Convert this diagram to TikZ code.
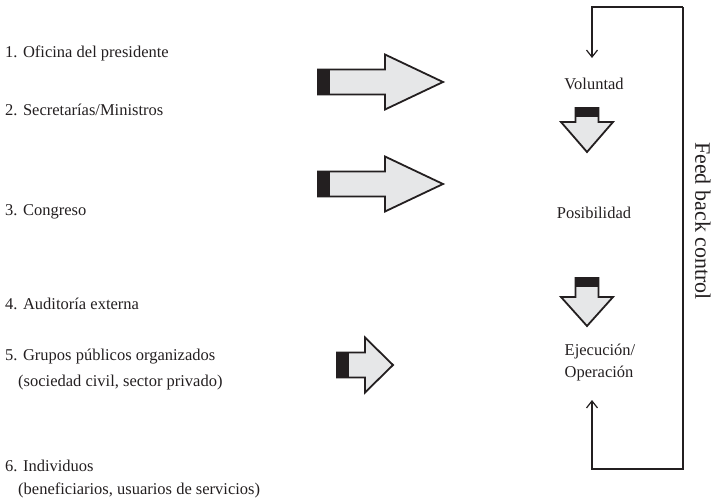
\documentclass[tikz,border=0pt]{standalone}
\usepackage{fontspec}
\setmainfont{Liberation Serif}
\usetikzlibrary{arrows.meta}
\definecolor{ink}{HTML}{231F20}
\definecolor{arrowfill}{HTML}{E6E7E8}
\tikzset{
  lbl/.style={anchor=west, inner sep=0pt, font=\fontsize{16.5}{19}\selectfont, text=ink},
  stage/.style={inner sep=0pt, font=\fontsize{16.5}{22}\selectfont, text=ink},
  blockarrow/.style={draw=ink, fill=arrowfill, line width=1.8pt, line join=miter},
  tailcap/.style={fill=ink, draw=ink, line width=0.6pt},
  loop/.style={draw=ink, line width=1.6pt},
  looptip/.style={-{Straight Barb[length=7pt,width=11pt,line width=1.2pt]}}
}
% horizontal block arrow: tail x, head start x, tip x, centre y
\newcommand{\rightblock}[4]{%
  \path[blockarrow] (#1,#4-12.5) -- (#2,#4-12.5) -- (#2,#4-27.5) -- (#3,#4)
    -- (#2,#4+27.5) -- (#2,#4+12.5) -- (#1,#4+12.5) -- cycle;
  \path[tailcap] (#1,#4-12.5) rectangle (#1+11,#4+12.5);
}
% vertical block arrow: centre x, tail y, head start y, tip y
\newcommand{\downblock}[4]{%
  \path[blockarrow] (#1-11.5,#2) -- (#1+11.5,#2) -- (#1+11.5,#3) -- (#1+26,#3)
    -- (#1,#4) -- (#1-26,#3) -- (#1-11.5,#3) -- cycle;
  \path[tailcap] (#1-11.5,#2) rectangle (#1+11.5,#2+8);
}
\begin{document}
\begin{tikzpicture}[x=1pt,y=-1pt]
\useasboundingbox (0,0) rectangle (714,501);

% actors
\node[lbl] (l1) at (5,53) {1. Oficina del presidente};
\node[lbl] (l2) at (5,110) {2. Secretarías/Ministros};
\node[lbl] (l3) at (5,212) {3. Congreso};
\node[lbl] (l4) at (5,304) {4. Auditoría externa};
\node[lbl] (l5) at (5,357) {5. Grupos públicos organizados};
\node[lbl] (l5b) at (18,383) {(sociedad civil, sector privado)};
\node[lbl] (l6) at (5,466) {6. Individuos};
\node[lbl] (l6b) at (18,490) {(beneficiarios, usuarios de servicios)};

% stages
\node[stage] (vol) at (594,84) {Voluntad};
\node[stage] (pos) at (594,213) {Posibilidad};
\node[stage, align=left] (eje) at (600,363) {Ejecución/\\Operación};

% inputs into each stage
\rightblock{318}{385}{443}{82}
\rightblock{318}{385}{443}{184}
\rightblock{337}{365}{393}{365}

% flow between stages
\downblock{587}{108}{122}{152}
\downblock{587}{278}{297}{326}

% feedback loop
\coordinate (ftl) at (592,7);
\coordinate (ftr) at (683,7);
\coordinate (fbr) at (683,469);
\coordinate (fbl) at (592,469);
\coordinate (fin) at (592,58);
\coordinate (fout) at (592,400);
\draw[loop, looptip] (ftr) -- (ftl) -- (fin);
\draw[loop, looptip] (ftr) -- (fbr) -- (fbl) -- (fout);
\node[inner sep=0pt, rotate=-90, font=\fontsize{22}{26}\selectfont, text=ink] (fb) at (703,221) {Feed back control};
\end{tikzpicture}
\end{document}
